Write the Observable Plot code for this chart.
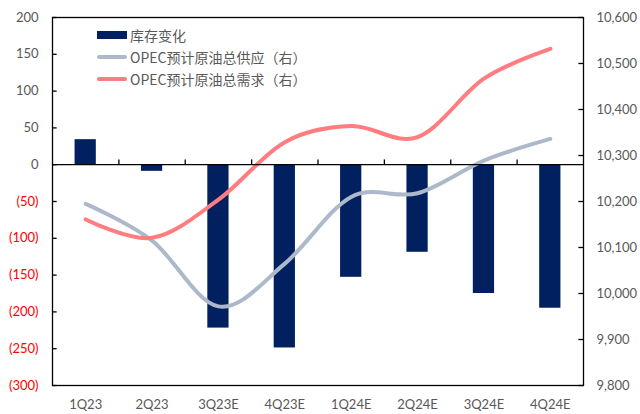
<!DOCTYPE html>
<html>
<head>
<meta charset="utf-8">
<script src="https://cdn.jsdelivr.net/npm/d3@7"></script>
<script src="https://cdn.jsdelivr.net/npm/@observablehq/plot@0.6"></script>
<style>
  body { margin: 0; background: #fff; }
  #wrap { position: relative; width: 640px; height: 414px; }
  #legend { position: absolute; left: 97px; top: 24px; font-family: "Noto Sans CJK SC", sans-serif; font-size: 14px; color: #595959; }
  .item { display: flex; align-items: center; height: 22px; }
  .sw { width: 30px; margin-right: 3px; }
</style>
</head>
<body>
<div id="wrap"></div>
<script>
const categories = ["1Q23","2Q23","3Q23E","4Q23E","1Q24E","2Q24E","3Q24E","4Q24E"];
const inventory = [34, -9, -222, -249, -153, -119, -175, -195];
const supply = [10195, 10115, 9972, 10065, 10210, 10218, 10289, 10336];
const demand = [10161, 10121, 10204, 10329, 10364, 10340, 10467, 10532];
const leftTicks = [-300, -250, -200, -150, -100, -50, 0, 50, 100, 150, 200];
const rightTicks = [9800, 9900, 10000, 10100, 10200, 10300, 10400, 10500, 10600];
const seriesNames = ["库存变化", "OPEC预计原油总供应（右）", "OPEC预计原油总需求（右）"];

const navy = "#002060", grayBlue = "#ADB9CA", pink = "#FF7C80", txt = "#595959", red = "#FF0000";
// right axis [9800,10600] mapped onto left axis [-300,200]
const toLeft = v => (v - 10600) * 0.625 + 200;
const fromLeft = l => Math.round((l - 200) / 0.625 + 10600);

const idx = categories.map((_, i) => i);
const bars = idx.map(i => ({i, v: inventory[i]}));
const sup = idx.map(i => ({i, v: toLeft(supply[i])}));
const dem = idx.map(i => ({i, v: toLeft(demand[i])}));
const half = 0.16;
const font = "Lato, 'Open Sans', sans-serif";

const chart = Plot.plot({
  width: 640, height: 414,
  marginLeft: 52, marginRight: 57, marginTop: 17, marginBottom: 29,
  style: {fontFamily: font, fontSize: "13px", background: "#fff"},
  x: {type: "linear", domain: [-0.5, 7.5]},
  y: {domain: [-300, 200]},
  marks: [
    Plot.rectY(bars, {x1: d => d.i - half, x2: d => d.i + half, y1: 0, y2: "v", fill: navy}),
    Plot.line(sup, {x: "i", y: "v", stroke: grayBlue, strokeWidth: 4, curve: "cardinal"}),
    Plot.line(dem, {x: "i", y: "v", stroke: pink, strokeWidth: 4, curve: "cardinal"}),
    Plot.ruleY([0], {stroke: "#000", strokeWidth: 1.3}),
    Plot.ruleX(idx.slice(1), {x: d => d - 0.5, y1: 0, y2: 6.5, stroke: "#000", strokeWidth: 1.3}),
    Plot.ruleY(leftTicks, {x1: -0.5, x2: -0.43, y: d => d, stroke: "#000", strokeWidth: 1.3}),
    Plot.ruleY(rightTicks.map(toLeft), {x1: 7.43, x2: 7.5, y: d => d, stroke: "#000", strokeWidth: 1.3}),
    Plot.frame({stroke: "#000", strokeWidth: 1.3}),
    Plot.axisY(leftTicks.filter(d => d >= 0), {anchor: "left", tickSize: 0, tickPadding: 14, fill: txt, label: null}),
    Plot.axisY(leftTicks.filter(d => d < 0), {anchor: "left", tickSize: 0, tickPadding: 14, fill: red, label: null, tickFormat: d => `(${-d})`}),
    Plot.axisY(rightTicks.map(toLeft), {anchor: "right", tickSize: 0, tickPadding: 13, fill: txt, label: null, tickFormat: d => d3.format(",")(fromLeft(d))}),
    Plot.axisX(idx, {anchor: "bottom", tickSize: 0, tickPadding: 14, fill: txt, label: null, tickFormat: i => categories[i]})
  ]
});

const wrap = document.getElementById("wrap");
wrap.appendChild(chart);
const legend = document.createElement("div");
legend.id = "legend";
const swatches = [
  `<span class="sw" style="height:8px;background:${navy}"></span>`,
  `<span class="sw" style="height:4px;background:${grayBlue};border-radius:2px"></span>`,
  `<span class="sw" style="height:4px;background:${pink};border-radius:2px"></span>`
];
legend.innerHTML = seriesNames.map((n, k) => `<div class="item">${swatches[k]}<span>${n}</span></div>`).join("");
wrap.appendChild(legend);
</script>
</body>
</html>
